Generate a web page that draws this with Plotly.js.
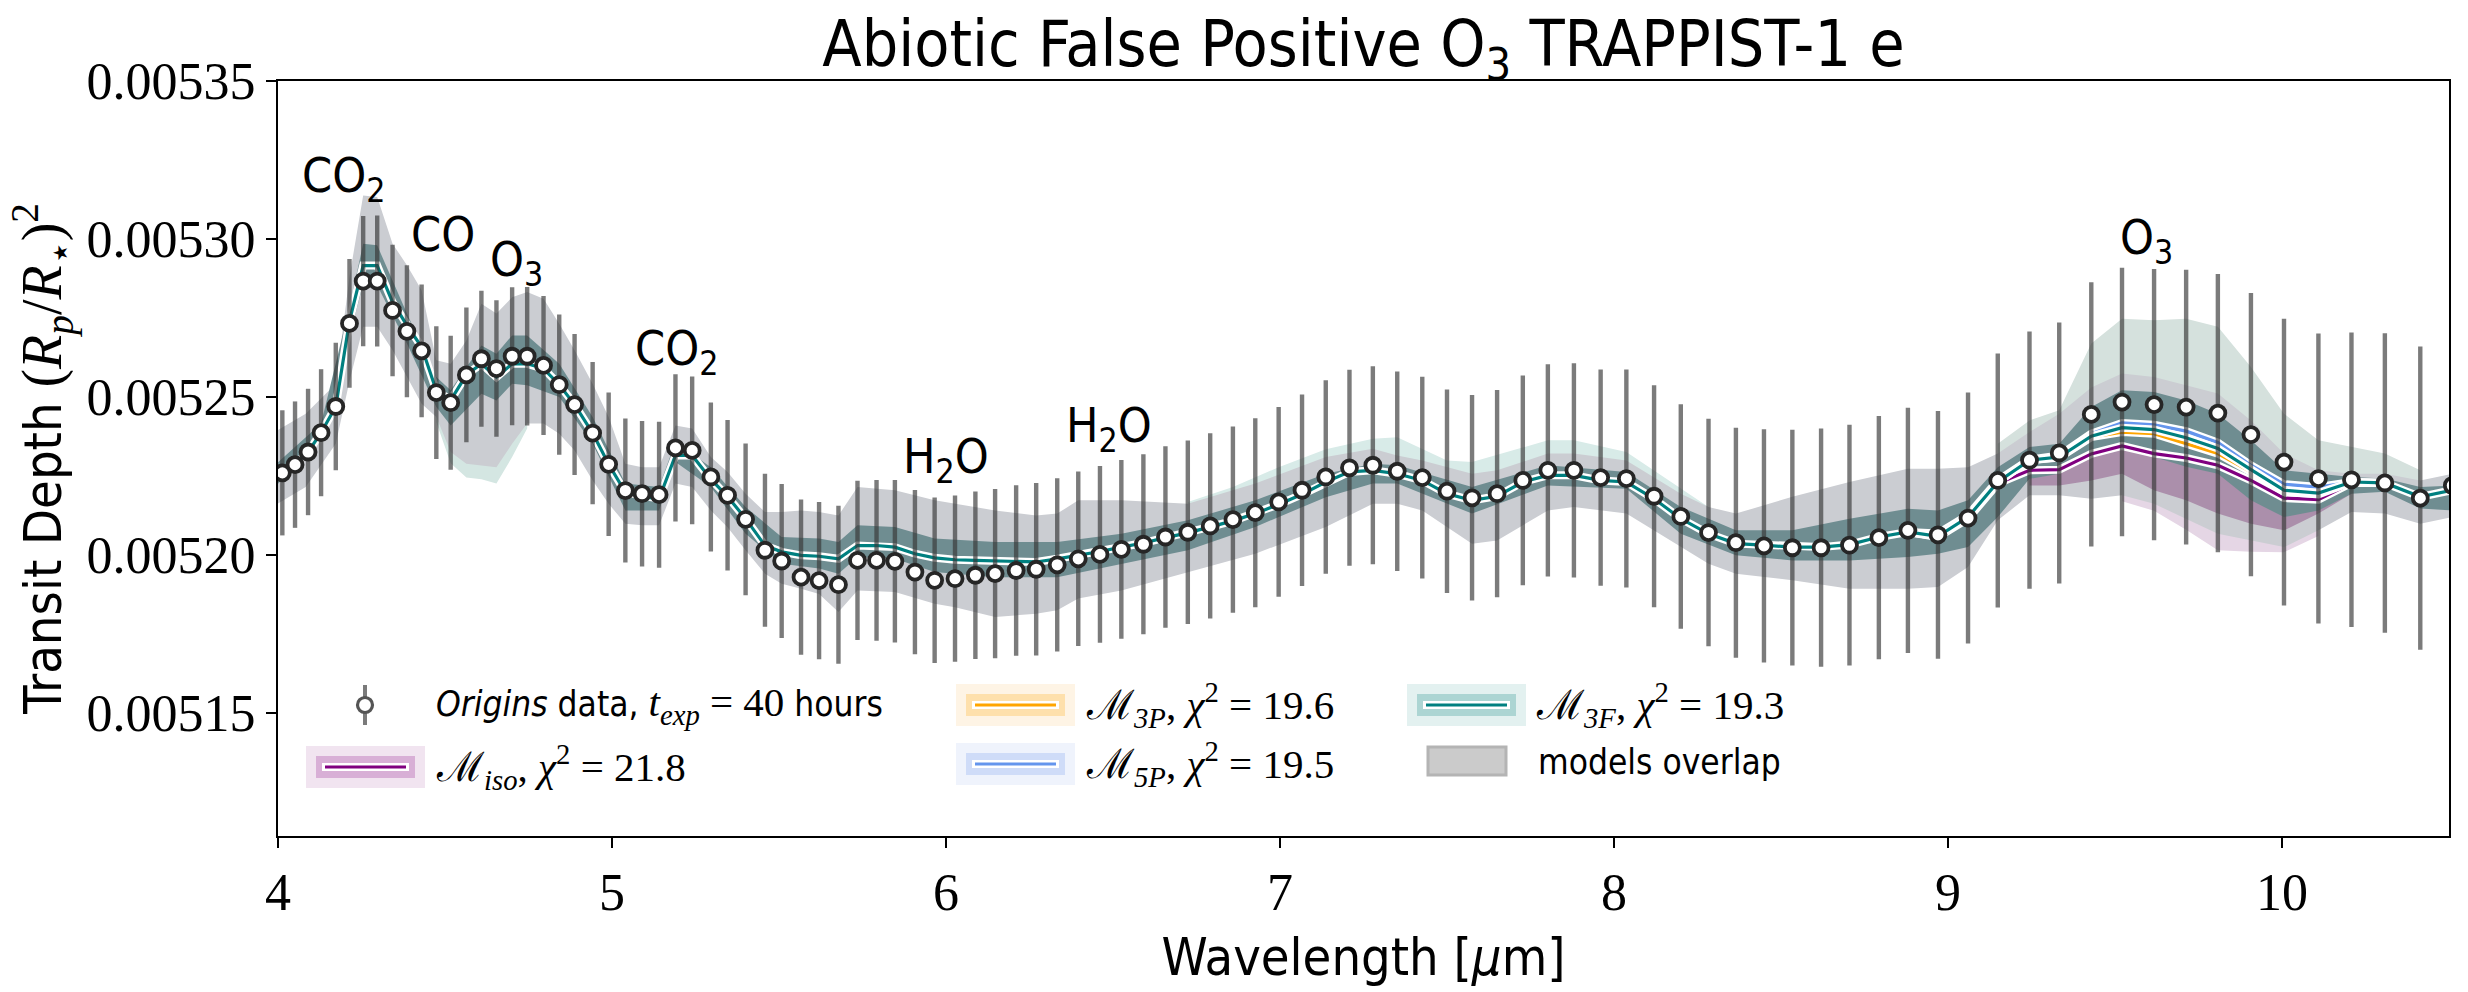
<!DOCTYPE html>
<html>
<head>
<meta charset="utf-8">
<script src="https://cdn.plot.ly/plotly-3.0.1.min.js"></script>
<style>html,body{margin:0;padding:0;background:#fff;}#chart{width:2468px;height:992px;}</style>
</head>
<body>
<div id="chart"></div>
<script>
// ---------------- data (transit depth values in units of 1e-5) ----------------
const SCALE = 1e-5;

const wavelength = [4.013, 4.051, 4.090, 4.129, 4.173, 4.214, 4.255, 4.297, 4.343, 4.386, 4.430, 4.474, 4.517, 4.564, 4.609, 4.654, 4.701, 4.746, 4.795, 4.842, 4.888, 4.942, 4.990, 5.040, 5.090, 5.141, 5.190, 5.240, 5.296, 5.346, 5.400, 5.458, 5.508, 5.566, 5.620, 5.678, 5.735, 5.792, 5.847, 5.907, 5.966, 6.027, 6.088, 6.147, 6.210, 6.270, 6.333, 6.396, 6.461, 6.525, 6.591, 6.657, 6.724, 6.791, 6.859, 6.926, 6.996, 7.066, 7.137, 7.208, 7.278, 7.351, 7.426, 7.500, 7.575, 7.650, 7.727, 7.802, 7.880, 7.960, 8.037, 8.120, 8.200, 8.283, 8.365, 8.449, 8.534, 8.620, 8.705, 8.793, 8.880, 8.970, 9.060, 9.149, 9.244, 9.333, 9.429, 9.521, 9.617, 9.713, 9.808, 9.907, 10.006, 10.109, 10.208, 10.308, 10.414, 10.510];

const depthE5 = [522.60, 522.86, 523.26, 523.87, 524.70, 527.33, 528.67, 528.67, 527.74, 527.08, 526.46, 525.14, 524.82, 525.70, 526.21, 525.90, 526.29, 526.29, 526.00, 525.39, 524.76, 523.86, 522.87, 522.04, 521.94, 521.91, 523.39, 523.31, 522.47, 521.89, 521.13, 520.15, 519.81, 519.30, 519.19, 519.06, 519.83, 519.83, 519.80, 519.46, 519.20, 519.25, 519.36, 519.41, 519.51, 519.55, 519.69, 519.88, 520.02, 520.18, 520.34, 520.57, 520.72, 520.92, 521.12, 521.34, 521.68, 522.05, 522.47, 522.76, 522.84, 522.65, 522.45, 522.02, 521.81, 521.94, 522.36, 522.68, 522.68, 522.45, 522.42, 521.86, 521.22, 520.71, 520.39, 520.29, 520.23, 520.23, 520.31, 520.55, 520.78, 520.64, 521.17, 522.36, 523.00, 523.23, 524.45, 524.84, 524.76, 524.68, 524.49, 523.81, 522.94, 522.42, 522.38, 522.28, 521.80, 522.20];

const errE5 = [1.98, 2.00, 2.00, 2.01, 2.02, 2.04, 2.06, 2.07, 2.08, 2.09, 2.10, 2.10, 2.12, 2.13, 2.15, 2.16, 2.18, 2.19, 2.20, 2.22, 2.23, 2.25, 2.27, 2.28, 2.30, 2.31, 2.33, 2.34, 2.36, 2.38, 2.40, 2.42, 2.44, 2.46, 2.49, 2.50, 2.52, 2.54, 2.57, 2.60, 2.62, 2.63, 2.65, 2.68, 2.70, 2.73, 2.74, 2.76, 2.80, 2.83, 2.85, 2.87, 2.90, 2.93, 2.95, 2.99, 3.00, 3.03, 3.06, 3.10, 3.13, 3.16, 3.19, 3.22, 3.25, 3.28, 3.32, 3.36, 3.39, 3.42, 3.45, 3.51, 3.55, 3.60, 3.64, 3.69, 3.73, 3.77, 3.81, 3.85, 3.88, 3.92, 3.97, 4.02, 4.07, 4.13, 4.18, 4.25, 4.29, 4.35, 4.40, 4.48, 4.54, 4.59, 4.66, 4.74, 4.80, 4.85];

// median of model M_3F at the data wavelengths
const model3F = [522.60, 522.86, 523.26, 523.87, 524.70, 527.40, 529.16, 529.16, 528.00, 527.27, 526.58, 525.20, 524.90, 525.70, 526.05, 525.63, 526.05, 526.05, 525.90, 525.39, 524.76, 523.86, 522.87, 521.98, 521.85, 521.78, 523.15, 523.15, 522.40, 521.85, 521.15, 520.30, 520.10, 519.99, 519.96, 519.88, 520.30, 520.30, 520.25, 520.04, 519.91, 519.85, 519.83, 519.81, 519.78, 519.78, 519.88, 519.99, 520.11, 520.25, 520.38, 520.55, 520.70, 520.89, 521.08, 521.31, 521.60, 521.92, 522.31, 522.63, 522.68, 522.57, 522.36, 521.94, 521.73, 521.86, 522.31, 522.52, 522.52, 522.36, 522.31, 521.78, 521.15, 520.67, 520.36, 520.31, 520.25, 520.25, 520.33, 520.57, 520.73, 520.59, 521.20, 522.31, 523.00, 523.10, 523.76, 524.03, 523.97, 523.71, 523.37, 522.70, 522.05, 521.96, 522.31, 522.28, 521.84, 522.05];

// other model medians, where they depart from M_3F (O3 band)
const o3Wl    = [8.880, 8.970, 9.060, 9.149, 9.244, 9.333, 9.429, 9.521, 9.617, 9.713, 9.808, 9.907, 10.006, 10.109, 10.208, 10.308];
const modelIso = [520.73, 520.57, 521.15, 522.26, 522.68, 522.70, 523.20, 523.45, 523.21, 523.07, 522.84, 522.36, 521.80, 521.75, 522.28, 522.28];
const model3P  = [520.73, 520.59, 521.20, 522.31, 523.00, 523.08, 523.73, 523.89, 523.84, 523.52, 523.21, 522.63, 522.00, 521.92, 522.31, 522.28];
const model5P  = [520.73, 520.68, 521.26, 522.36, 523.02, 523.15, 523.84, 524.18, 524.12, 523.92, 523.56, 522.84, 522.24, 522.15, 522.31, 522.28];

// overlap of all models, 2-sigma envelope
const wideWl = [3.99, 4.083, 4.173, 4.214, 4.255, 4.297, 4.343, 4.386, 4.430, 4.474, 4.517, 4.564, 4.609, 4.654, 4.701, 4.746, 4.795, 4.842, 4.888, 4.942, 4.990, 5.040, 5.090, 5.141, 5.190, 5.240, 5.296, 5.346, 5.400, 5.458, 5.508, 5.566, 5.620, 5.678, 5.735, 5.847, 5.966, 6.027, 6.147, 6.270, 6.333, 6.396, 6.525, 6.724, 6.926, 7.137, 7.278, 7.351, 7.426, 7.575, 7.650, 7.802, 7.880, 8.037, 8.200, 8.283, 8.365, 8.534, 8.705, 8.880, 8.970, 9.060, 9.149, 9.244, 9.333, 9.429, 9.521, 9.617, 9.808, 9.907, 10.006, 10.109, 10.208, 10.308, 10.414, 10.510];
const wideHi = [523.89, 524.47, 525.42, 528.80, 531.38, 531.33, 529.85, 529.17, 528.38, 526.16, 526.05, 526.79, 527.95, 527.64, 528.16, 528.32, 528.11, 527.32, 526.48, 525.42, 524.37, 522.89, 522.78, 522.78, 524.10, 524.00, 523.10, 522.63, 521.94, 521.36, 521.36, 521.41, 521.36, 521.25, 522.15, 522.05, 521.73, 521.62, 521.41, 521.25, 521.31, 521.73, 521.73, 521.62, 522.26, 523.10, 523.36, 523.15, 522.99, 522.57, 522.68, 523.21, 523.21, 522.99, 521.94, 521.52, 521.31, 521.84, 522.31, 522.73, 522.73, 522.78, 523.21, 523.89, 524.47, 525.30, 525.74, 525.63, 525.11, 524.26, 523.21, 522.68, 522.57, 522.57, 522.36, 522.57];
const wideLo = [521.57, 522.15, 523.52, 525.50, 527.22, 527.22, 526.48, 525.63, 524.79, 524.37, 523.26, 522.89, 522.84, 522.78, 523.52, 524.16, 524.16, 523.84, 523.31, 522.36, 521.62, 520.99, 520.94, 520.94, 522.26, 522.15, 521.41, 520.88, 520.15, 519.41, 519.09, 518.93, 518.77, 518.20, 518.88, 518.83, 518.46, 518.35, 518.04, 518.14, 518.25, 518.62, 518.88, 519.46, 520.04, 520.89, 521.62, 521.62, 521.41, 520.36, 520.46, 521.41, 521.52, 521.31, 520.25, 519.72, 519.41, 519.20, 518.93, 518.93, 518.99, 519.62, 521.10, 521.89, 521.89, 521.78, 521.89, 521.62, 520.67, 520.46, 520.25, 520.78, 521.36, 521.31, 520.99, 521.20];

// overlap of all models, 1-sigma envelope
const narrowWl = [3.99, 4.129, 4.214, 4.255, 4.297, 4.386, 4.474, 4.517, 4.609, 4.654, 4.701, 4.746, 4.842, 4.942, 5.040, 5.141, 5.190, 5.296, 5.400, 5.508, 5.620, 5.678, 5.735, 5.847, 5.966, 6.147, 6.333, 6.525, 6.724, 6.926, 7.137, 7.278, 7.351, 7.575, 7.802, 8.037, 8.200, 8.365, 8.534, 8.705, 8.880, 8.970, 9.060, 9.149, 9.244, 9.333, 9.429, 9.521, 9.617, 9.713, 9.808, 9.907, 10.006, 10.109, 10.208, 10.308, 10.414, 10.510];
const narrowHi = [522.84, 524.16, 527.85, 529.85, 529.80, 527.64, 525.63, 525.21, 526.63, 526.37, 526.95, 526.95, 526.05, 524.37, 522.26, 522.15, 523.58, 522.78, 521.52, 520.57, 520.52, 520.41, 520.94, 520.89, 520.52, 520.41, 520.41, 520.67, 521.10, 521.73, 522.57, 522.89, 522.84, 522.15, 522.84, 522.63, 521.52, 520.78, 520.78, 521.15, 521.46, 521.41, 521.73, 522.78, 523.42, 523.52, 524.68, 525.21, 525.16, 524.89, 524.47, 523.63, 522.68, 522.57, 522.47, 522.42, 522.15, 522.20];
const narrowLo = [522.15, 523.63, 526.90, 528.59, 528.53, 526.69, 524.68, 524.10, 525.10, 524.89, 525.42, 525.37, 525.00, 523.52, 521.41, 521.41, 522.94, 522.15, 520.67, 519.72, 519.57, 519.41, 519.94, 519.88, 519.46, 519.30, 519.30, 519.72, 520.15, 520.89, 521.83, 522.26, 522.26, 521.31, 522.20, 522.10, 520.67, 519.99, 519.83, 519.83, 519.94, 520.04, 520.25, 521.20, 522.41, 522.57, 523.10, 523.42, 523.10, 522.79, 522.57, 521.73, 521.20, 521.41, 521.94, 522.00, 521.47, 521.41];

// single-model 2-sigma regions reaching outside the overlap
const sageWl = [9.149, 9.244, 9.333, 9.429, 9.521, 9.617, 9.713, 9.808, 9.907, 10.006, 10.109, 10.208, 10.308, 10.414];
const sageHi = [523.52, 524.26, 524.58, 526.69, 527.48, 527.43, 527.48, 527.22, 525.95, 524.47, 523.63, 523.42, 523.21, 522.68];
const sageLo = [522.30, 523.00, 523.10, 523.80, 524.00, 524.00, 523.70, 523.40, 522.70, 522.10, 522.00, 522.30, 522.30, 521.80];

const tealWl = [6.724, 6.859, 6.996, 7.137, 7.278, 7.351, 7.500, 7.575, 7.802, 7.880, 8.037, 8.200, 8.283];
const tealHi = [521.68, 522.15, 522.78, 523.35, 523.68, 523.73, 522.99, 522.94, 523.63, 523.63, 523.26, 522.10, 521.52];
const tealLo = [520.70, 521.08, 521.60, 522.31, 522.68, 522.57, 521.94, 521.73, 522.52, 522.52, 522.31, 521.15, 520.67];

const coWl = [4.474, 4.517, 4.564, 4.609, 4.654, 4.701, 4.746];
const coHi = [525.20, 524.90, 525.70, 526.05, 525.63, 526.05, 526.05];
const coLo = [524.20, 522.90, 522.45, 522.40, 522.26, 523.10, 524.00];

const isoPaleWl = [9.521, 9.617, 9.713, 9.808, 9.907, 10.006, 10.109];
const isoPaleHi = [523.45, 523.21, 523.07, 522.84, 522.36, 521.80, 521.75];
const isoPaleLo = [521.70, 521.40, 520.80, 520.15, 520.10, 520.09, 520.60];

const iso1Wl = [9.244, 9.333, 9.429, 9.521, 9.617, 9.713, 9.808, 9.907, 10.006, 10.109, 10.208];
const iso1Hi = [523.10, 523.20, 523.70, 524.00, 523.80, 523.60, 523.30, 522.80, 522.30, 522.20, 522.50];
const iso1Lo = [522.20, 522.20, 522.36, 522.57, 522.05, 521.73, 521.31, 520.99, 520.78, 521.31, 521.94];

// tick labels
const xTicks = [4, 5, 6, 7, 8, 9, 10];
const yTicks = [0.00515, 0.00520, 0.00525, 0.00530, 0.00535];
const yTickText = ['0.00515', '0.00520', '0.00525', '0.00530', '0.00535'];

// legend labels
const legendLabels = {
  data: 'Origins', hours: '40',
  iso: '21.8', p3: '19.6', p5: '19.5', f3: '19.3'
};

// ---------------- drawing ----------------
const SANS = "'Liberation Sans Narrow', 'DejaVu Sans Condensed', 'Roboto', sans-serif";
const SERIF = "Liberation Serif";
const C = {iso: '#800080', p3: '#ffa500', p5: '#6495ed', f3: '#008080'};

const sc = a => a.map(v => v * SCALE);

function band(xs, hi, lo, color) {
  return {
    x: xs.concat(xs.slice().reverse()),
    y: sc(hi).concat(sc(lo).reverse()),
    mode: 'lines', fill: 'toself', fillcolor: color,
    line: {width: 0}, hoverinfo: 'skip', showlegend: false
  };
}
function outlinedLine(xs, ys, color) {
  return [
    {x: xs, y: sc(ys), mode: 'lines', line: {color: 'white', width: 8}, hoverinfo: 'skip', showlegend: false},
    {x: xs, y: sc(ys), mode: 'lines', line: {color: color, width: 3.2}, hoverinfo: 'skip', showlegend: false}
  ];
}

const traces = [
  band(sageWl, sageHi, sageLo, '#d5e1dd'),
  band(tealWl, tealHi, tealLo, '#d8ebe8'),
  band(coWl, coHi, coLo, '#d4e6e2'),
  band(isoPaleWl, isoPaleHi, isoPaleLo, '#e5d6e5'),
  band(wideWl, wideHi, wideLo, '#cbcdd2'),
  band(iso1Wl, iso1Hi, iso1Lo, '#ab8fab'),
  band(narrowWl, narrowHi, narrowLo, '#6f8d91'),
  ...outlinedLine(o3Wl, modelIso, C.iso),
  ...outlinedLine(o3Wl, model3P, C.p3),
  ...outlinedLine(o3Wl, model5P, C.p5),
  ...outlinedLine(wavelength, model3F, C.f3),
  {
    x: wavelength, y: sc(depthE5), mode: 'markers', hoverinfo: 'skip', showlegend: false,
    marker: {size: 15, color: 'white', line: {color: '#262626', width: 3.8}},
    error_y: {type: 'data', array: sc(errE5), visible: true, thickness: 4.4, width: 0, color: 'rgba(55,55,55,0.66)'}
  }
];

// pixel frame of the axes
const L = 278, R = 2449, T = 81, B = 836;
const px = x => (x - L) / (R - L);
const py = y => (B - y) / (B - T);

const shapes = [];
const annotations = [];
function rect(x0, y0, x1, y1, fill, line) {
  shapes.push({type: 'rect', xref: 'paper', yref: 'paper', x0: px(x0), x1: px(x1), y0: py(y1), y1: py(y0),
    fillcolor: fill, line: line || {width: 0}, layer: 'above'});
}
function modelPatch(x, yc, color, outer, inner) {
  rect(x, yc - 21, x + 119, yc + 21, outer);
  rect(x + 10, yc - 11, x + 109, yc + 11, inner);
  rect(x + 16, yc - 4, x + 103, yc + 4, 'white');
  rect(x + 19, yc - 1.6, x + 100, yc + 1.6, color);
}
modelPatch(956, 705, C.p3, '#fef4e5', '#fee0ac');
modelPatch(1407, 705, C.f3, '#e3f1f0', '#acd5d3');
modelPatch(306, 767, C.iso, '#f1e4f0', '#d8afd6');
modelPatch(956, 764, C.p5, '#eff3fc', '#cfdcf8');
rect(1428, 747, 1506, 775, '#cbcbcb', {color: '#b4b4b4', width: 3});
// data marker in legend
shapes.push({type: 'line', xref: 'paper', yref: 'paper', x0: px(365), x1: px(365), y0: py(725), y1: py(685),
  line: {color: 'rgba(55,55,55,0.66)', width: 4}, layer: 'above'});
shapes.push({type: 'circle', xref: 'paper', yref: 'paper', x0: px(357.5), x1: px(372.5), y0: py(712.5), y1: py(697.5),
  fillcolor: 'white', line: {color: '#555', width: 3.2}, layer: 'above'});

function legendText(x, y, text) {
  annotations.push({xref: 'paper', yref: 'paper', x: px(x), y: py(y), xanchor: 'left', yanchor: 'middle',
    text: text, showarrow: false, font: {family: SANS, size: 35, color: 'black'}});
}
const math = (s, size) => `<span style="font-family:${SERIF};font-size:${size}px">${s}</span>`;
legendText(434, 705, `<i>${legendLabels.data}</i> data, ${math('<i>t</i><sub><i>exp</i></sub> = ' + legendLabels.hours, 41)} hours`);
legendText(1084, 705, math(`ℳ<sub><i>3P</i></sub>, <i>χ</i><sup>2</sup> = ${legendLabels.p3}`, 41));
legendText(1534, 705, math(`ℳ<sub><i>3F</i></sub>, <i>χ</i><sup>2</sup> = ${legendLabels.f3}`, 41));
legendText(434, 767, math(`ℳ<sub><i>iso</i></sub>, <i>χ</i><sup>2</sup> = ${legendLabels.iso}`, 41));
legendText(1084, 764, math(`ℳ<sub><i>5P</i></sub>, <i>χ</i><sup>2</sup> = ${legendLabels.p5}`, 41));
legendText(1536, 762, 'models overlap');

// molecule labels
function label(wl, v, text) {
  annotations.push({x: wl, y: v * SCALE, xref: 'x', yref: 'y', text: text, showarrow: false,
    xanchor: 'center', yanchor: 'middle', font: {family: SANS, size: 48, color: 'black'}});
}
label(4.195, 531.92, 'CO<sub>2</sub>');
label(4.494, 530.15, 'CO');
label(4.713, 529.26, 'O<sub>3</sub>');
label(5.192, 526.45, 'CO<sub>2</sub>');
label(6.000, 523.03, 'H<sub>2</sub>O');
label(6.488, 524.01, 'H<sub>2</sub>O');
label(9.593, 529.96, 'O<sub>3</sub>');

const layout = {
  width: 2468, height: 992,
  margin: {l: L, r: 2468 - R, t: T, b: 992 - B},
  paper_bgcolor: 'white', plot_bgcolor: 'white',
  showlegend: false,
  title: {text: 'Abiotic False Positive O<sub>3</sub> TRAPPIST-1 e', x: (L + R) / 2 / 2468, xanchor: 'center',
    y: 1 - 44 / 992, yanchor: 'middle', font: {family: SANS, size: 64, color: 'black'}},
  xaxis: {
    range: [4, 10.5], tickvals: xTicks, ticktext: xTicks.map(String),
    ticks: 'outside', ticklen: 10, tickwidth: 2, tickcolor: 'black',
    showline: true, mirror: true, linewidth: 2, linecolor: 'black',
    showgrid: false, zeroline: false,
    tickfont: {family: SERIF, size: 52, color: 'black'},
    title: {text: 'Wavelength [<i>μ</i>m]', standoff: 18, font: {family: SANS, size: 52, color: 'black'}}
  },
  yaxis: {
    range: [0.00511108, 0.00535], tickvals: yTicks, ticktext: yTickText,
    ticks: 'outside', ticklen: 10, tickwidth: 2, tickcolor: 'black',
    showline: true, mirror: true, linewidth: 2, linecolor: 'black',
    showgrid: false, zeroline: false,
    tickfont: {family: SERIF, size: 52, color: 'black'},
    title: {text: 'Transit Depth ' + math('(<i>R</i><sub><i>p</i></sub>/<i>R</i><sub>⋆</sub>)<sup>2</sup>', 56),
      standoff: 8, font: {family: SANS, size: 52, color: 'black'}}
  },
  shapes: shapes,
  annotations: annotations
};

Plotly.newPlot('chart', traces, layout, {displayModeBar: false, staticPlot: true});
</script>
</body>
</html>
